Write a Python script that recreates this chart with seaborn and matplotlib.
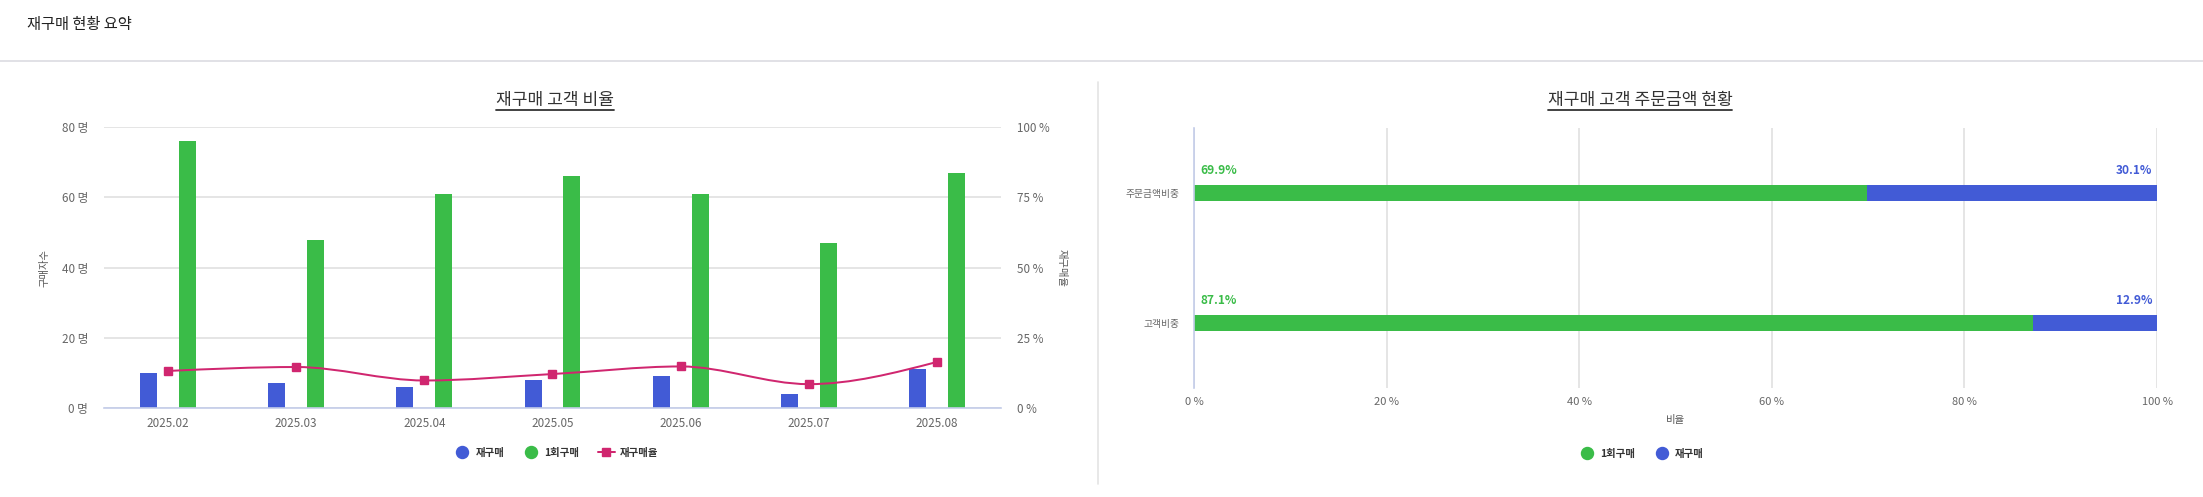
import numpy as np
import pandas as pd
import matplotlib
matplotlib.use("Agg")
import matplotlib.pyplot as plt
import seaborn as sns
from matplotlib.path import Path
from matplotlib.patches import PathPatch
from matplotlib.lines import Line2D

# ---------------- data ----------------
months = ["2025.02", "2025.03", "2025.04", "2025.05", "2025.06", "2025.07", "2025.08"]
repeat_buyers = [10, 7, 6, 8, 9, 4, 11]
one_time_buyers = [76, 48, 61, 66, 61, 47, 67]
repeat_rate = [13.2, 14.6, 9.8, 12.1, 14.8, 8.5, 16.4]

share_categories = ["주문금액비중", "고객비중"]
share_one_time = [69.9, 87.1]
share_repeat = [30.1, 12.9]

left_yticks = [0, 20, 40, 60, 80]
right_yticks = [0, 25, 50, 75, 100]
share_xticks = [0, 20, 40, 60, 80, 100]

# ---------------- style ----------------
sns.set_style("white")
FONT = ["Noto Sans CJK KR", "DejaVu Sans"]
plt.rcParams["font.family"] = FONT
plt.rcParams["axes.unicode_minus"] = False

BLUE = "#425bd6"
GREEN = "#3abc48"
PINK = "#d0266f"
GRID = "#e0e0e0"
SPINE = "#c3cce9"
TICK = "#666666"
PX = 0.72  # points per pixel at dpi 100

W, H = 2203, 497
fig = plt.figure(figsize=(W / 100, H / 100), dpi=100)


def fx(px):
    return px / W


def fy(py):
    return (H - py) / H


# header
fig.text(fx(27), fy(25), "재구매 현황 요약", ha="left", va="center",
         fontsize=11, color="#222222")
fig.add_artist(Line2D([0, 1], [fy(61), fy(61)], transform=fig.transFigure,
                      color="#dcdce2", lw=1.2))
fig.add_artist(Line2D([fx(1098), fx(1098)], [fy(82), fy(484)],
                      transform=fig.transFigure, color="#e4e4e4", lw=1.2))

# ---------------- left chart ----------------
ax = fig.add_axes([fx(104), fy(408), (1001 - 104) / W, (408 - 127.3) / H])
df = pd.DataFrame({
    "월": months * 2,
    "인원": repeat_buyers + one_time_buyers,
    "구분": ["재구매"] * len(months) + ["1회구매"] * len(months),
})
sns.barplot(data=df, x="월", y="인원", hue="구분", hue_order=["재구매", "1회구매"],
            palette=[BLUE, GREEN], width=0.608, gap=0.5625, saturation=1,
            linewidth=0, legend=False, ax=ax)
ax.set_ylim(0, 80)
ax.set_xlim(-0.5, len(months) - 0.5)
ax.set_yticks(left_yticks)
ax.set_yticklabels([f"{v} 명" for v in left_yticks])
ax.set_xlabel("")
ax.set_ylabel("구매자수", fontsize=7.4, color="#555555", va="center")
ax.yaxis.set_label_coords((44 - 104) / 897, 0.5)
ax.yaxis.grid(True, color=GRID, lw=1.2)
ax.set_axisbelow(True)
for s in ["top", "right", "left"]:
    ax.spines[s].set_visible(False)
ax.spines["bottom"].set_color(SPINE)
ax.spines["bottom"].set_linewidth(1.2)
ax.tick_params(axis="both", length=0, labelsize=8.4, labelcolor=TICK)
ax.tick_params(axis="y", pad=11.3)
ax.tick_params(axis="x", pad=6.5)

ax2 = ax.twinx()
ax2.set_ylim(0, 100)
ax2.set_yticks(right_yticks)
ax2.set_yticklabels([f"{v} %" for v in right_yticks])
ax2.tick_params(axis="y", length=0, labelsize=8.4, labelcolor=TICK, pad=11.3)
for s in ["top", "right", "left", "bottom"]:
    ax2.spines[s].set_visible(False)
ax2.set_ylabel("재구매율", fontsize=7.4, color="#555555", rotation=270, va="center")
ax2.yaxis.set_label_coords((1062 - 104) / 897, 0.5)

# smooth (monotone) curve through the rate points
xs = np.arange(len(months), dtype=float)
ys = np.asarray(repeat_rate, dtype=float)
n = len(xs)
h = np.diff(xs)
sec = np.diff(ys) / h
m = np.zeros(n)
for i in range(1, n - 1):
    s0, s1 = sec[i - 1], sec[i]
    p = (s0 * h[i] + s1 * h[i - 1]) / (h[i - 1] + h[i])
    m[i] = (np.sign(s0) + np.sign(s1)) * min(abs(s0), abs(s1), 0.5 * abs(p))
m[0] = (3 * sec[0] - m[1]) / 2
m[-1] = (3 * sec[-1] - m[-2]) / 2
verts = [(xs[0], ys[0])]
codes = [Path.MOVETO]
for i in range(n - 1):
    d = h[i] / 3
    verts += [(xs[i] + d, ys[i] + m[i] * d),
              (xs[i + 1] - d, ys[i + 1] - m[i + 1] * d),
              (xs[i + 1], ys[i + 1])]
    codes += [Path.CURVE4] * 3
ax2.add_patch(PathPatch(Path(verts, codes), facecolor="none", edgecolor=PINK,
                        lw=2 * PX, zorder=3))
ax2.plot(xs, ys, linestyle="None", marker="s", markersize=8 * PX,
         color=PINK, zorder=4)

fig.text(fx(555), fy(100), "재구매 고객 비율", ha="center", va="center",
         fontsize=12.3, color="#333333")

handles_l = [
    Line2D([], [], linestyle="None", marker="o", markersize=12 * PX, color=BLUE),
    Line2D([], [], linestyle="None", marker="o", markersize=12 * PX, color=GREEN),
    Line2D([], [], linestyle="-", lw=2 * PX, marker="s", markersize=8 * PX, color=PINK),
]
fig.legend(handles_l, ["재구매", "1회구매", "재구매율"], loc="center",
           bbox_to_anchor=(fx(556), fy(453)), ncol=3, frameon=False,
           prop={"family": FONT, "weight": "bold", "size": 7.5},
           labelcolor="#333333", handlelength=1.6, handletextpad=0.45,
           columnspacing=1.8)

# ---------------- right chart ----------------
ax3 = fig.add_axes([fx(1194.3), fy(388), (2157 - 1194.3) / W, (388 - 128) / H])
totals = [a + b for a, b in zip(share_one_time, share_repeat)]
sns.barplot(x=totals, y=share_categories, orient="h", color=BLUE, width=0.128,
            saturation=1, linewidth=0, ax=ax3)
sns.barplot(x=share_one_time, y=share_categories, orient="h", color=GREEN,
            width=0.128, saturation=1, linewidth=0, ax=ax3)
ax3.set_xlim(0, 100)
ax3.set_ylim(1.5, -0.5)
ax3.set_xticks(share_xticks)
ax3.set_xticklabels([f"{v} %" for v in share_xticks])
ax3.xaxis.grid(True, color=GRID, lw=1.2)
ax3.set_axisbelow(True)
for s in ["top", "right", "bottom"]:
    ax3.spines[s].set_visible(False)
ax3.spines["left"].set_color(SPINE)
ax3.spines["left"].set_linewidth(1.2)
ax3.tick_params(axis="both", length=0, labelcolor=TICK)
ax3.tick_params(axis="x", labelsize=8.0, pad=6.5)
ax3.tick_params(axis="y", labelsize=7.0, pad=10.8)
ax3.set_ylabel("")
ax3.set_xlabel("비율", fontsize=7.5, color="#555555", labelpad=6)

for i, (g, b) in enumerate(zip(share_one_time, share_repeat)):
    ax3.annotate(f"{g:.1f}%", xy=(0, i), xytext=(6 * PX, 22 * PX),
                 textcoords="offset points", ha="left", va="center",
                 color=GREEN, fontweight="bold", fontsize=8.6)
    ax3.annotate(f"{b:.1f}%", xy=(100, i), xytext=(-4.5 * PX, 22 * PX),
                 textcoords="offset points", ha="right", va="center",
                 color=BLUE, fontweight="bold", fontsize=8.6)

fig.text(fx(1640), fy(100), "재구매 고객 주문금액 현황", ha="center", va="center",
         fontsize=12.3, color="#333333")

handles_r = [
    Line2D([], [], linestyle="None", marker="o", markersize=12 * PX, color=GREEN),
    Line2D([], [], linestyle="None", marker="o", markersize=12 * PX, color=BLUE),
]
fig.legend(handles_r, ["1회구매", "재구매"], loc="center",
           bbox_to_anchor=(fx(1641), fy(454)), ncol=2, frameon=False,
           prop={"family": FONT, "weight": "bold", "size": 7.5},
           labelcolor="#333333", handlelength=1.6, handletextpad=0.45,
           columnspacing=1.8)

# underline the chart titles
fig.canvas.draw()
renderer = fig.canvas.get_renderer()
for t in list(fig.texts):
    if t.get_text() in ("재구매 고객 비율", "재구매 고객 주문금액 현황"):
        bb = t.get_window_extent(renderer)
        y = bb.y0 - 1
        fig.add_artist(Line2D([bb.x0, bb.x1], [y, y], transform=None,
                              color="#333333", lw=1.3))

fig.savefig("out.png", dpi=100)
